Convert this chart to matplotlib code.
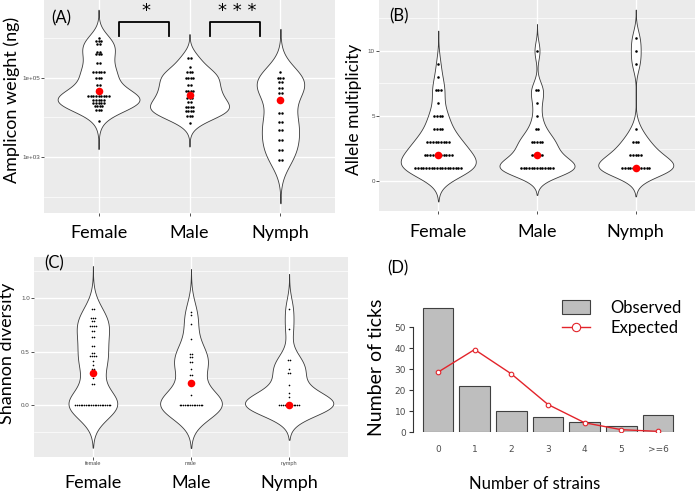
import numpy as np
import matplotlib
matplotlib.use('Agg')
import matplotlib.pyplot as plt
from matplotlib.patches import Patch
from matplotlib.lines import Line2D
from matplotlib.ticker import NullFormatter
from matplotlib.transforms import blended_transform_factory

W, H = 696, 493

groups = ["Female", "Male", "Nymph"]
small_groups = ["female", "male", "nymph"]

# (A) amplicon weight: log10(ng) of each dot row and the number of dots in it
amp_female_log = [6.01, 5.92, 5.85, 5.66, 5.59, 5.38, 5.15, 5.00, 4.83, 4.70, 4.55, 4.45, 4.36, 4.28, 4.20, 3.91]
amp_female_n = [1, 3, 2, 2, 3, 2, 5, 3, 2, 2, 9, 5, 5, 4, 3, 1]
amp_male_log = [5.50, 5.28, 5.15, 4.99, 4.82, 4.68, 4.50, 4.40, 4.27, 4.17, 4.03, 3.87]
amp_male_n = [2, 1, 3, 4, 2, 4, 3, 2, 4, 4, 3, 1]
amp_nymph_log = [5.14, 5.00, 4.89, 4.75, 4.61, 4.12, 3.89, 3.68, 3.42, 3.17, 2.93]
amp_nymph_n = [1, 3, 2, 2, 2, 2, 2, 2, 2, 2, 2]
amp_centre_log = [4.67, 4.57, 4.44]
comparisons = [(1, 2, "*"), (2, 3, "***")]

# (B) allele multiplicity
allele_female = [1, 2, 3, 4, 5, 6, 7, 8, 9]
allele_female_n = [18, 11, 9, 4, 4, 1, 3, 1, 1]
allele_male = [1, 2, 3, 4, 5, 6, 7, 10]
allele_male_n = [13, 5, 5, 2, 1, 1, 2, 1]
allele_nymph = [1, 2, 3, 4, 9, 10, 11]
allele_nymph_n = [11, 5, 3, 1, 1, 1, 1]
allele_centre = [2, 2, 1]

# (C) Shannon diversity
shan_female = [0.90, 0.81, 0.79, 0.74, 0.69, 0.64, 0.55, 0.49, 0.46, 0.41, 0.37, 0.34, 0.31, 0.25, 0.20, 0.0]
shan_female_n = [2, 3, 2, 4, 2, 2, 2, 2, 4, 1, 1, 2, 1, 1, 2, 21]
shan_male = [0.87, 0.84, 0.76, 0.62, 0.48, 0.45, 0.40, 0.34, 0.28, 0.09, 0.0]
shan_male_n = [1, 1, 1, 1, 2, 2, 2, 1, 2, 1, 14]
shan_nymph = [0.90, 0.71, 0.42, 0.335, 0.30, 0.19, 0.11, 0.07, 0.0]
shan_nymph_n = [1, 1, 2, 1, 2, 1, 1, 1, 12]
shan_centre = [0.30, 0.21, 0.0]

# (D) strains per tick
strains = ["0", "1", "2", "3", "4", "5", ">=6"]
observed = [59, 22, 10, 7, 5, 3, 8]
expected = [28.5, 39.3, 27.7, 13.1, 4.4, 1.1, 0.3]

BIG = "Lato"
SMALL = "Liberation Sans"

fig = plt.figure(figsize=(W / 100, H / 100), dpi=100)


def px_axes(l, t, r, b):
    return fig.add_axes([l / W, 1 - b / H, (r - l) / W, (b - t) / H])


def kde(vals):
    # gaussian kde with R's bw.nrd0, cut at 3 bandwidths (ggplot default)
    vals = np.asarray(vals, float)
    n = len(vals)
    sd = vals.std(ddof=1)
    q75, q25 = np.percentile(vals, [75, 25])
    bw = 0.9 * min(sd, (q75 - q25) / 1.34) * n ** -0.2
    grid = np.linspace(vals.min() - 3 * bw, vals.max() + 3 * bw, 400)
    dens = np.exp(-0.5 * ((grid[:, None] - vals[None, :]) / bw) ** 2).sum(1) / (n * bw * np.sqrt(2 * np.pi))
    return grid, dens


def gg_panel(ax, rows, counts, centres, spacing, dot_s, width=0.9, log=False, scale="area"):
    ax.set_facecolor("#EBEBEB")
    for s in ax.spines.values():
        s.set_visible(False)
    data = [np.repeat(r, c) for r, c in zip(rows, counts)]
    kdes = [kde(d) for d in data]
    top = max(g.max() for g, _ in kdes)
    bot = min(g.min() for g, _ in kdes)
    span = top - bot
    lo, hi = bot - 0.05 * span, top + 0.05 * span
    dmax = max(d.max() for _, d in kdes)
    tf = (lambda v: 10 ** np.asarray(v)) if log else (lambda v: np.asarray(v))
    for i, (g, d) in enumerate(kdes):
        pos = i + 1
        norm = d.max() if scale == "width" else dmax
        half = d / norm * width / 2
        ax.fill_betweenx(tf(g), pos - half, pos + half, facecolor="white",
                         edgecolor="#3a3a3a", lw=0.6, zorder=2)
        for v, n in zip(rows[i], counts[i]):
            xs = pos + (np.arange(n) - (n - 1) / 2) * spacing
            ax.scatter(xs, tf(np.full(n, v)), s=dot_s, color="black", lw=0, zorder=3)
        ax.scatter([pos], tf([centres[i]]), s=30, color="#FF0000", lw=0, zorder=4)
    if log:
        ax.set_yscale("log")
    ax.set_ylim(tf(lo), tf(hi))
    ax.set_xlim(0.4, 3.6)
    ax.set_xticks([1, 2, 3])
    ax.set_axisbelow(True)
    ax.grid(which="major", color="white", lw=1.0)
    ax.grid(which="minor", axis="y", color="white", lw=0.5)
    ax.tick_params(which="major", length=2, width=0.6, color="#333333",
                   labelsize=4.5, labelcolor="#4D4D4D", pad=1)
    ax.tick_params(which="minor", length=0)
    trans = blended_transform_factory(ax.transData, ax.transAxes)
    return trans


def big_labels(ax, trans, y):
    for i, g in enumerate(groups):
        ax.text(i + 1, y, g, transform=trans, ha="center", va="center",
                fontsize=13, family=BIG, clip_on=False)


# ---- (A)
axA = px_axes(44, 0, 335, 213)
trA = gg_panel(axA, [amp_female_log, amp_male_log, amp_nymph_log],
               [amp_female_n, amp_male_n, amp_nymph_n], amp_centre_log,
               spacing=2.6 / 91, dot_s=3.2, log=True)
axA.set_yticks([1e3, 1e5])
axA.set_yticklabels(["1e+03", "1e+05"], family=SMALL, fontsize=4.5, color="#4D4D4D")
axA.set_yticks([1e2, 1e4, 1e6], minor=True)
axA.yaxis.set_minor_formatter(NullFormatter())
axA.set_xticklabels([])
big_labels(axA, trA, -0.094)
axA.set_ylabel("Amplicon weight (ng)", fontsize=13, family=BIG)
axA.yaxis.set_label_coords(-24 / 291, 0.53)
axA.text(0.058, 0.915, "(A)", transform=axA.transAxes, ha="center", va="center",
         fontsize=12, family=BIG)
for a, b, star in comparisons:
    mid = (a + b) / 2
    xs = [mid - 0.27, mid - 0.27, mid + 0.27, mid + 0.27]
    axA.plot(xs, [10 ** 6.06, 10 ** 6.40, 10 ** 6.40, 10 ** 6.06], color="black",
             lw=1.3, clip_on=False, zorder=5)
    axA.text(mid + 0.02, 10 ** 6.46, " ".join(star), ha="center", va="bottom", fontsize=13,
             family="DejaVu Sans", clip_on=False)

# ---- (B)
axB = px_axes(379, 0, 695, 211)
trB = gg_panel(axB, [allele_female, allele_male, allele_nymph],
               [allele_female_n, allele_male_n, allele_nymph_n], allele_centre,
               spacing=2.7 / 99, dot_s=3.4, width=0.76, scale="width")
axB.set_yticks([0, 5, 10])
axB.set_yticklabels(["0", "5", "10"], family=SMALL, fontsize=4.5, color="#4D4D4D")
axB.set_yticks([2.5, 7.5, 12.5], minor=True)
axB.set_xticklabels([])
big_labels(axB, trB, -0.1)
axB.set_ylabel("Allele multiplicity", fontsize=12.5, family=BIG)
axB.yaxis.set_label_coords(-17 / 316, 0.48)
axB.text(0.063, 0.924, "(B)", transform=axB.transAxes, ha="center", va="center",
         fontsize=12, family=BIG)

# ---- (C)
axC = px_axes(34, 257, 348, 457)
trC = gg_panel(axC, [shan_female, shan_male, shan_nymph],
               [shan_female_n, shan_male_n, shan_nymph_n], shan_centre,
               spacing=1.75 / 98, dot_s=1.4)
axC.set_yticks([0.0, 0.5, 1.0])
axC.set_yticklabels(["0.0", "0.5", "1.0"], family=SMALL, fontsize=4.5, color="#4D4D4D")
axC.set_yticks([-0.25, 0.25, 0.75, 1.25], minor=True)
axC.set_xticklabels(small_groups, family=SMALL, fontsize=4, color="#4D4D4D")
big_labels(axC, trC, -0.13)
axC.set_ylabel("Shannon diversity", fontsize=13, family=BIG)
axC.yaxis.set_label_coords(-19 / 314, 0.52)
axC.text(0.064, 0.97, "(C)", transform=axC.transAxes, ha="center", va="center",
         fontsize=12, family=BIG)

# ---- (D)
axD = px_axes(413, 300, 683, 432)
x = np.arange(len(strains))
red = "#E3242B"
axD.bar(x, observed, width=0.833, color="#BEBEBE", edgecolor="#404040", lw=0.8)
axD.plot(x, expected, color=red, lw=1.0, marker="o", ms=3.3, mfc="white", mec=red, mew=0.8)
axD.set_xlim(-0.68, 6.68)
axD.set_ylim(0, 62.9)
for side in ["top", "right", "bottom"]:
    axD.spines[side].set_visible(False)
axD.spines["left"].set_bounds(0, 50)
axD.spines["left"].set_color("#333333")
axD.spines["left"].set_linewidth(0.8)
axD.set_yticks(np.arange(0, 51, 10))
axD.tick_params(axis="y", length=3, width=0.8, color="#333333", labelsize=6.5,
                labelcolor="#4D4D4D", pad=2)
axD.set_xticks(x)
axD.set_xticklabels(strains)
axD.tick_params(axis="x", length=0, labelsize=6.5, labelcolor="#4D4D4D", pad=9)
axD.set_ylabel("Number of ticks", fontsize=14, family=BIG)
axD.yaxis.set_label_coords(-28 / 270, 0.49)
axD.set_xlabel("Number of strains", fontsize=12, family=BIG)
axD.xaxis.set_label_coords(0.452, -0.33)
axD.text(-0.056, 1.24, "(D)", transform=axD.transAxes, ha="center", va="center",
         fontsize=12, family=BIG)
handles = [Patch(facecolor="#BEBEBE", edgecolor="#404040", lw=0.8),
           Line2D([], [], color=red, lw=1.0, marker="o", ms=6, mfc="white", mec=red, mew=0.8)]
axD.legend(handles, ["Observed", "Expected"], loc="upper left", bbox_to_anchor=(0.552, 1.0),
           frameon=False, prop={"family": BIG, "size": 12}, handlelength=1.68,
           handleheight=0.9, handletextpad=1.2, labelspacing=0.23, borderpad=0,
           borderaxespad=0)

fig.savefig("out.png", dpi=100)
